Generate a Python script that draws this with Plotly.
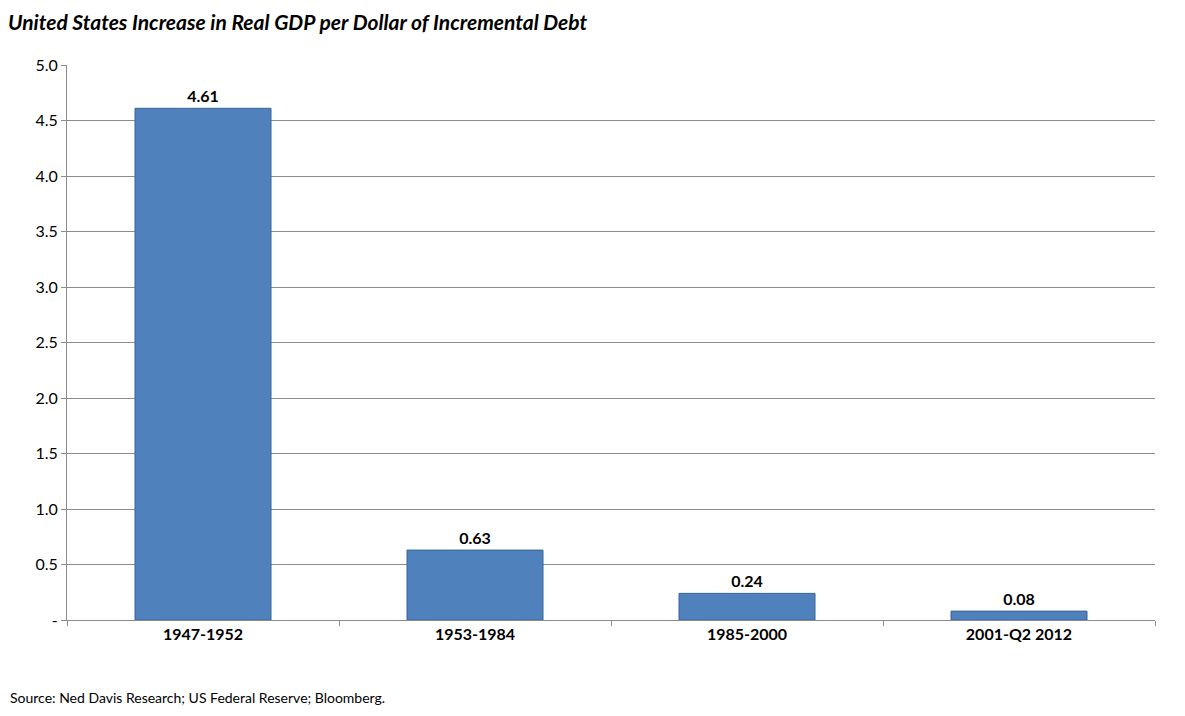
import plotly.graph_objects as go

periods = ["1947-1952", "1953-1984", "1985-2000", "2001-Q2 2012"]
gdp_per_debt = [4.61, 0.63, 0.24, 0.08]
y_ticks = [0, 0.5, 1.0, 1.5, 2.0, 2.5, 3.0, 3.5, 4.0, 4.5, 5.0]
y_tick_text = ["-", "0.5", "1.0", "1.5", "2.0", "2.5", "3.0", "3.5", "4.0", "4.5", "5.0"]

font = "Lato, Carlito, Calibri, sans-serif"

fig = go.Figure(go.Bar(
    x=periods, y=gdp_per_debt,
    width=0.5,
    marker=dict(color="#4F81BD", line=dict(color="#3A6594", width=1)),
    text=[f"<b>{v:.2f}</b>" for v in gdp_per_debt],
    textposition="outside",
    textfont=dict(size=16, color="#000", family=font),
    cliponaxis=False,
))

fig.update_layout(
    width=1185, height=716,
    paper_bgcolor="white", plot_bgcolor="white",
    margin=dict(l=59, r=38, t=57, b=104),
    font=dict(family=font, size=15, color="#000"),
    showlegend=False,
    title=dict(
        text="<b><i>United States Increase in Real GDP per Dollar of Incremental Debt</i></b>",
        x=0.0, xanchor="left", y=1 - 15 / 716, yanchor="middle",
        font=dict(size=21, family=font),
    ),
    annotations=[dict(
        text="Source: Ned Davis Research; US Federal Reserve; Bloomberg.",
        xref="paper", yref="paper", x=-0.054, y=-0.139,
        xanchor="left", yanchor="middle", showarrow=False,
        font=dict(size=14, family=font),
    )],
)
fig.update_yaxes(
    range=[0, 5.0], tickvals=y_ticks, ticktext=y_tick_text,
    showgrid=True, gridcolor="#8C8C8C", gridwidth=1,
    showline=True, linecolor="#8C8C8C",
    ticks="outside", ticklen=5, tickcolor="#8C8C8C",
    tickfont=dict(size=16),
)
fig.update_xaxes(
    showline=True, linecolor="#8C8C8C",
    ticks="outside", ticklen=5, tickcolor="#8C8C8C",
    tickson="boundaries",
    tickfont=dict(size=16, family=font), tickprefix="<b>", ticksuffix="</b>",
)

fig.write_html("out.html")
